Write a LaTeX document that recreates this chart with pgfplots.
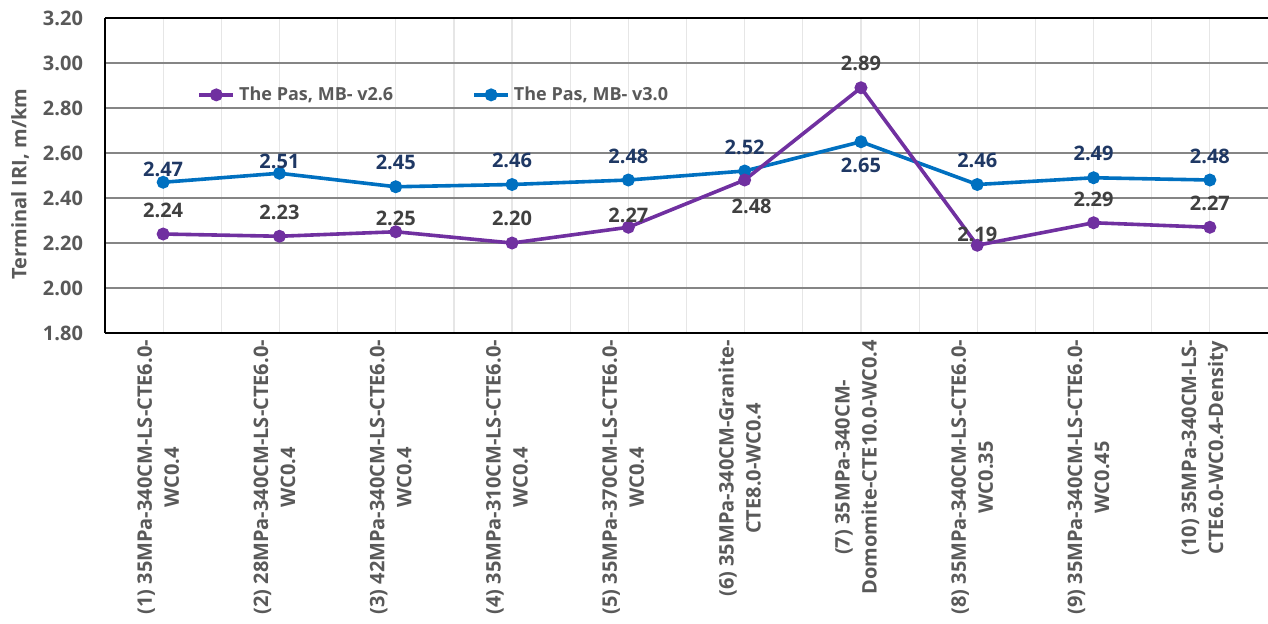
\documentclass[border=0pt]{standalone}
\usepackage{fontspec}
\setmainfont{Open Sans}
\usepackage{pgfplots}
\pgfplotsset{compat=1.18}
\usepackage{pgfplotstable}
\usetikzlibrary{calc}
\definecolor{cpurple}{HTML}{7030A0}
\definecolor{cblue}{HTML}{0070C0}
\definecolor{navy}{HTML}{1F3864}
\definecolor{dgray}{HTML}{404040}
\definecolor{tgray}{HTML}{595959}
\definecolor{ggray}{HTML}{858585}
\definecolor{lgray}{HTML}{E6E6E6}

\pgfplotstableread{
x y dy dx
1 2.24 11.75 0
2 2.23 12 0
3 2.25 6.5 0
4 2.20 12.5 0
5 2.27 6 0
6 2.48 -13 3.5
7 2.89 12 0
8 2.19 5.5 0
9 2.29 11.5 0
10 2.27 12 0
}\purpletab

\pgfplotstableread{
x y dy dx
1 2.47 6.5 0
2 2.51 6 0
3 2.45 12.4 0
4 2.46 12 0
5 2.48 12 0
6 2.52 12 0
7 2.65 -12 0
8 2.46 12 0
9 2.49 12 0
10 2.48 12 0
}\bluetab

\begin{document}
\begin{tikzpicture}
\begin{axis}[
  scale only axis,
  width=581.5pt, height=157.5pt,
  xmin=0.5, xmax=10.5,
  ymin=1.8, ymax=3.2,
  ytick={1.8,2.0,2.2,2.4,2.6,2.8,3.0,3.2},
  xtick={1,2,3,4,5,6,7,8,9,10},
  minor x tick num=1,
  xmajorgrids, xminorgrids, ymajorgrids,
  major x grid style={lgray, line width=0.6pt},
  minor x grid style={lgray, line width=0.6pt},
  major y grid style={ggray, line width=0.7pt},
  major tick length=0pt, minor tick length=0pt,
  axis lines*=left,
  axis line style={-, black, line width=0.9pt},
  /pgf/number format/assume math mode=true,
  yticklabel={\pgfmathprintnumber[fixed,fixed zerofill,precision=2]{\tick}},
  y tick label style={font=\bfseries\fontsize{10}{12}\selectfont, text=tgray, xshift=-7.5pt},
  xticklabels={
    {(1) 35MPa-340CM-LS-CTE6.0-\\WC0.4},
    {(2) 28MPa-340CM-LS-CTE6.0-\\WC0.4},
    {(3) 42MPa-340CM-LS-CTE6.0-\\WC0.4},
    {(4) 35MPa-310CM-LS-CTE6.0-\\WC0.4},
    {(5) 35MPa-370CM-LS-CTE6.0-\\WC0.4},
    {(6) 35MPa-340CM-Granite-\\CTE8.0-WC0.4},
    {(7) 35MPa-340CM-\\Domomite-CTE10.0-WC0.4},
    {(8) 35MPa-340CM-LS-CTE6.0-\\WC0.35},
    {(9) 35MPa-340CM-LS-CTE6.0-\\WC0.45},
    {(10) 35MPa-340CM-LS-\\CTE6.0-WC0.4-Density}},
  x tick label style={rotate=90, anchor=east, align=center,
    font=\bfseries\fontsize{10}{13.5}\selectfont, text=tgray, yshift=2.5pt},
  ylabel={Terminal IRI, m/km},
  ylabel style={at={(axis description cs:-0.073,0.473)}, anchor=center,
    font=\bfseries\fontsize{10}{12}\selectfont, text=tgray},
  legend style={at={(0.074,0.756)}, anchor=west, draw=none, fill=none,
    legend columns=2, font=\bfseries\fontsize{9}{11}\selectfont, text=tgray,
    /tikz/every even column/.append style={column sep=37.5pt}},
  legend cell align=left,
  reverse legend,
  every node near coord/.append style={anchor=center,
    font=\bfseries\fontsize{10}{12}\selectfont},
]
\addplot[cblue, line width=1.8pt, mark=*, mark size=2.3pt, mark options={solid, fill=cblue},
  point meta=y,
  visualization depends on={\thisrow{dy}\as\dy},
  visualization depends on={\thisrow{dx}\as\dx},
  nodes near coords={\pgfmathprintnumber[fixed,fixed zerofill,precision=2]{\pgfplotspointmeta}},
  nodes near coords style={yshift=\dy pt, xshift=\dx pt, text=navy},
] table[x=x, y=y] {\bluetab};
\addlegendentry{The Pas, MB- v3.0}
\addplot[cpurple, line width=1.8pt, mark=*, mark size=2.3pt, mark options={solid, fill=cpurple},
  point meta=y,
  visualization depends on={\thisrow{dy}\as\dy},
  visualization depends on={\thisrow{dx}\as\dx},
  nodes near coords={\pgfmathprintnumber[fixed,fixed zerofill,precision=2]{\pgfplotspointmeta}},
  nodes near coords style={yshift=\dy pt, xshift=\dx pt, text=dgray},
] table[x=x, y=y] {\purpletab};
\addlegendentry{The Pas, MB- v2.6}
\end{axis}
\draw[black, line width=0.9pt] (current axis.north west) -- (current axis.north east);
\pgfresetboundingbox
\path ($(current axis.south west)+(-52.5pt,-145pt)$) rectangle ($(current axis.north east)+(0pt,9pt)$);
\end{tikzpicture}
\end{document}
